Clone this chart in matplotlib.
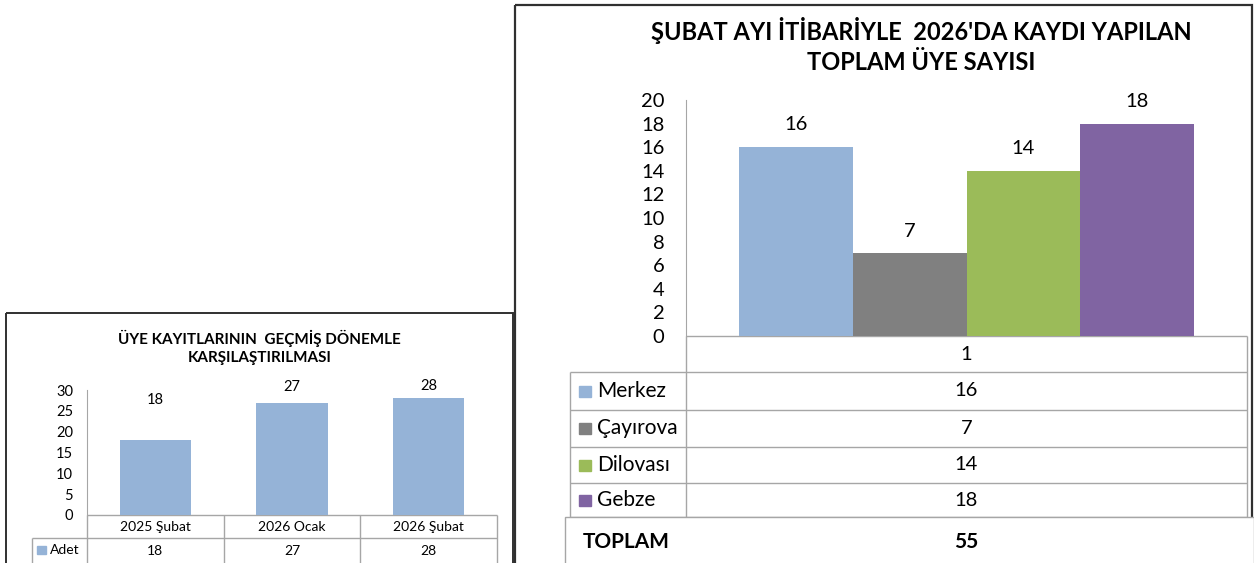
import matplotlib
matplotlib.use("Agg")
import matplotlib.pyplot as plt
from matplotlib.patches import Rectangle

plt.rcParams['font.family'] = ['Lato', 'DejaVu Sans']

# --- veri: geçmiş dönem karşılaştırması (küçük grafik)
donemler = ['2025 Şubat', '2026 Ocak', '2026 Şubat']
adet = [18, 27, 28]
seri_adi = 'Adet'

# --- veri: 2026 şubat itibariyle ilçe bazında kayıt (büyük grafik)
ilceler = ['Merkez', 'Çayırova', 'Dilovası', 'Gebze']
uye_sayisi = [16, 7, 14, 18]
kategori = ['1']
toplam_etiket = 'TOPLAM'

renkler = ['#95B3D7', '#808080', '#9BBB59', '#8064A2']
GRID = '#A6A6A6'
W, H = 1254, 563

fig = plt.figure(figsize=(W / 100, H / 100), dpi=100)

# piksel koordinatlı yardımcı eksen (çerçeveler, tablo)
ov = fig.add_axes([0, 0, 1, 1], zorder=0)
ov.set_xlim(0, W)
ov.set_ylim(H, 0)
ov.axis('off')


def px_axes(x0, y0, x1, y1):
    return fig.add_axes([x0 / W, 1 - y1 / H, (x1 - x0) / W, (y1 - y0) / H], zorder=2)


def cizgi(xs, ys, **kw):
    ov.plot(xs, ys, color=kw.pop('color', GRID), lw=kw.pop('lw', 1), solid_capstyle='butt', **kw)


# ---------------- büyük grafik ----------------
ov.add_patch(Rectangle((515, 5), 1252 - 515, 600, fill=False, edgecolor='#303030', lw=1.6))
ov.text(921, 30, "ŞUBAT AYI İTİBARİYLE  2026'DA KAYDI YAPILAN", ha='center', va='center',
        fontsize=17, fontweight='bold')
ov.text(921, 62, 'TOPLAM ÜYE SAYISI', ha='center', va='center', fontsize=17, fontweight='bold')

bx0, by0, bx1, by1 = 686, 100, 1247, 336
ax = px_axes(bx0, by0, bx1, by1)
ax.set_facecolor('none')
genislik = 0.203
for i, (ad, deger, renk) in enumerate(zip(ilceler, uye_sayisi, renkler)):
    xpos = (i - 1.5) * genislik
    ax.bar(xpos, deger, width=genislik, color=renk, label=ad)
    ax.annotate(str(deger), (xpos, deger), xytext=(0, 16), textcoords='offset points',
                ha='center', va='center', fontsize=14.5)
ax.set_xlim(-0.5, 0.5)
ax.set_ylim(0, 20)
ax.set_yticks(range(0, 21, 2))
ax.set_xticks([])
ax.tick_params(axis='y', length=0, pad=15.5, labelsize=14.5)
for s in ['top', 'right', 'bottom']:
    ax.spines[s].set_visible(False)
ax.spines['left'].set_color(GRID)

# tablo
satirlar = [336, 372, 410, 447, 483, 517]
leg_x = 570
cizgi([bx0, bx1], [336, 336])
for y in satirlar[1:]:
    cizgi([leg_x, bx1], [y, y])
cizgi([bx0, bx0], [336, 517])
cizgi([bx1, bx1], [336, 517])
cizgi([leg_x, leg_x], [372, 517])
ov.text((bx0 + bx1) / 2, (satirlar[0] + satirlar[1]) / 2, kategori[0], ha='center', va='center',
        fontsize=14.5)
for i, (ad, deger, renk) in enumerate(zip(ilceler, uye_sayisi, renkler)):
    yc = (satirlar[i + 1] + satirlar[i + 2]) / 2
    ov.add_patch(Rectangle((579, yc - 5.5), 12, 11, color=renk))
    ov.text(597, yc, ad, ha='left', va='center', fontsize=15)
    ov.text((bx0 + bx1) / 2, yc, str(deger), ha='center', va='center', fontsize=14.5)

ov.add_patch(Rectangle((565, 517), 1254 - 565, 80, facecolor='white', edgecolor=GRID, lw=1, zorder=3))
ov.text(583, 542, toplam_etiket, ha='left', va='center', fontsize=15, fontweight='bold', zorder=4)
ov.text((bx0 + bx1) / 2, 542, str(sum(uye_sayisi)), ha='center', va='center', fontsize=15,
        fontweight='bold', zorder=4)

# ---------------- küçük grafik ----------------
ov.add_patch(Rectangle((6, 313), 513 - 6, 300, fill=False, edgecolor='#303030', lw=1.4))
ov.text(259, 338, 'ÜYE KAYITLARININ  GEÇMİŞ DÖNEMLE', ha='center', va='center',
        fontsize=11, fontweight='bold')
ov.text(260, 358, 'KARŞILAŞTIRILMASI', ha='center', va='center', fontsize=11, fontweight='bold')

sx0, sy0, sx1, sy1 = 87, 390, 497, 515
ax2 = px_axes(sx0, sy0, sx1, sy1)
ax2.set_facecolor('none')
x = list(range(len(donemler)))
ax2.bar(x, adet, width=0.52, color=renkler[0], label=seri_adi)
etiket_kaydir = [29, 11, 9]
for xi, deger, k in zip(x, adet, etiket_kaydir):
    ax2.annotate(str(deger), (xi, deger), xytext=(0, k), textcoords='offset points',
                 ha='center', va='center', fontsize=10.5)
ax2.set_xlim(-0.5, len(donemler) - 0.5)
ax2.set_ylim(0, 30)
ax2.set_yticks(range(0, 31, 5))
ax2.set_xticks([])
ax2.tick_params(axis='y', length=0, pad=10, labelsize=10.5)
for s in ['top', 'right', 'bottom']:
    ax2.spines[s].set_visible(False)
ax2.spines['left'].set_color(GRID)

hucre = (sx1 - sx0) / len(donemler)
cizgi([sx0, sx1], [515, 515])
cizgi([32, sx1], [538, 538])
cizgi([32, 32], [538, 563])
for i in range(len(donemler) + 1):
    cizgi([sx0 + i * hucre] * 2, [515, 563])
for i, (d, deger) in enumerate(zip(donemler, adet)):
    xc = sx0 + (i + 0.5) * hucre
    ov.text(xc, 527, d, ha='center', va='center', fontsize=10)
    ov.text(xc, 551, str(deger), ha='center', va='center', fontsize=10)
ov.add_patch(Rectangle((37, 546), 9, 8, color=renkler[0]))
ov.text(50, 550.5, seri_adi, ha='left', va='center', fontsize=10)

fig.savefig('out.png', dpi=100)
